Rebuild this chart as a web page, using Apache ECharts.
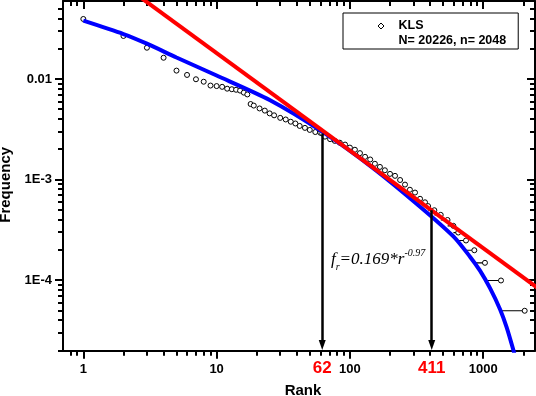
<!DOCTYPE html>
<html>
<head>
<meta charset="utf-8">
<script src="https://cdn.jsdelivr.net/npm/echarts@6/dist/echarts.min.js"></script>
<style>
  html, body { margin: 0; padding: 0; background: #fff; }
  #chart { width: 536px; height: 396px; }
</style>
</head>
<body>
<div id="chart"></div>
<script>
const N = 20226; // tokens

// word counts for ranks 1..17
const headCounts = [800, 542, 414, 329, 245, 222, 201, 190, 174, 172, 169, 162, 160, 158, 155, 148, 142];

// dense middle part, read along the band
const bandRanks = [18, 19, 21, 23, 25, 27, 30, 33, 36, 39, 42, 46, 50, 55, 60, 62, 65, 71, 77, 84, 92, 100,
  109, 119, 130, 142, 154, 168, 183, 200, 218, 238, 259, 282, 308, 336, 366, 386];
const bandCounts = [114, 110, 103, 98, 92, 88, 83, 80, 76, 73, 69, 66, 63, 60, 59, 58, 54, 51, 49, 47, 45, 42,
  40, 37, 34, 32, 29, 27, 25, 23, 22, 20, 18, 16, 15, 13, 12, 11];

// tied counts in the tail: count, last rank of the run
const tieCounts = [10, 9, 8, 7, 6, 5, 4, 3, 2, 1];
const tieLastRanks = [430, 480, 540, 597, 650, 743, 858, 1031, 1360, 2048];

// fitted curves
const blueRanks = [1, 2, 3, 5, 10, 25, 62, 150, 336, 600, 796, 946, 1125, 1337, 1500, 1682, 1760];
const blueFreq = [0.038, 0.028, 0.02245, 0.01637, 0.01083, 0.00618, 0.00299, 0.00129, 5.36e-4, 2.70e-4,
  1.706e-4, 1.238e-4, 8.29e-5, 5.12e-5, 3.38e-5, 2.02e-5, 1.6e-5];
const redRanks = [1, 3000];
const redFreq = [0.169, 7.16e-5];

const markedRanks = [62, 411];

const xTicks = [1, 10, 100, 1000];
const xTickLabels = ['1', '10', '100', '1000'];
const yTicks = [1e-4, 1e-3, 0.01];
const yTickLabels = ['1E-4', '1E-3', '0.01'];

const xMin = 0.704, xMax = 2447;
const yMin = 1.98e-5, yMax = 0.0597;

function minorOf(decades) {
  const out = [];
  decades.forEach(d => {
    for (let k = 2; k <= 9; k++) out.push(+(d * k).toPrecision(3));
  });
  return out;
}
const xMinor = minorOf([0.1, 1, 10, 100, 1000]);
const yMinor = minorOf([1e-5, 1e-4, 1e-3, 1e-2]);

function pick(ticks, labels) {
  return v => {
    for (let i = 0; i < ticks.length; i++) {
      if (Math.abs(Math.log10(v / ticks[i])) < 0.01) return labels[i];
    }
    return '';
  };
}

// points
const points = [];
headCounts.forEach((c, i) => points.push([i + 1, c / N]));
bandRanks.forEach((r, i) => points.push([r, bandCounts[i] / N]));
tieCounts.forEach((c, i) => points.push([tieLastRanks[i], c / N]));

// horizontal runs of equal count
const runs = [];
tieCounts.forEach((c, i) => {
  const start = i === 0 ? bandRanks[bandRanks.length - 1] + 1 : tieLastRanks[i - 1] + 1;
  runs.push([start, c / N], [tieLastRanks[i], c / N], [tieLastRanks[i], null]);
});

function countAt(r) {
  const b = bandRanks.indexOf(r);
  if (b >= 0) return bandCounts[b];
  for (let i = 0; i < tieCounts.length; i++) {
    if (r <= tieLastRanks[i]) return tieCounts[i];
  }
  return 1;
}

const black = '#000';
const font = 'Liberation Sans';

function axisBase(type, extra) {
  return Object.assign({
    type: 'log',
    logBase: 10,
    min: type === 'x' ? xMin : yMin,
    max: type === 'x' ? xMax : yMax,
    splitLine: { show: false },
    axisLine: { show: false, onZero: false, lineStyle: { color: black, width: 2 } },
    axisTick: { show: false },
    axisLabel: { show: false }
  }, extra);
}

const chart = echarts.init(document.getElementById('chart'), null, { renderer: 'canvas' });

chart.setOption({
  animation: false,
  backgroundColor: '#fff',
  grid: { left: 63, top: 1, width: 472, height: 349.7, containLabel: false, outerBoundsMode: 'none' },
  xAxis: [
    axisBase('x', {
      position: 'bottom',
      name: 'Rank', nameLocation: 'middle', nameGap: 33,
      nameTextStyle: { fontFamily: font, fontWeight: 'bold', fontSize: 15, color: black, padding: [0, 0, 0, 8] },
      axisLine: { show: true, onZero: false, lineStyle: { color: black, width: 2 } },
      axisTick: { show: true, customValues: xTicks, length: 8, lineStyle: { color: black, width: 2 } },
      axisLabel: { show: true, customValues: xTicks, formatter: pick(xTicks, xTickLabels), margin: 12,
        fontFamily: font, fontWeight: 'bold', fontSize: 13, color: black }
    }),
    axisBase('x', {
      position: 'bottom',
      axisTick: { show: true, customValues: xMinor, length: 5, lineStyle: { color: black, width: 2 } },
      axisLabel: { show: true, customValues: markedRanks, formatter: v => String(Math.round(v)), margin: 9,
        fontFamily: font, fontWeight: 'bold', fontSize: 17, color: '#ff0000' }
    }),
    axisBase('x', {
      position: 'top',
      axisLine: { show: true, onZero: false, lineStyle: { color: black, width: 2 } },
      axisTick: { show: true, inside: true, customValues: xTicks, length: 8, lineStyle: { color: black, width: 2 } }
    }),
    axisBase('x', {
      position: 'top',
      axisTick: { show: true, inside: true, customValues: xMinor, length: 5, lineStyle: { color: black, width: 2 } }
    })
  ],
  yAxis: [
    axisBase('y', {
      position: 'left',
      name: 'Frequency', nameLocation: 'middle', nameGap: 48,
      nameTextStyle: { fontFamily: font, fontWeight: 'bold', fontSize: 15, color: black, padding: [0, 18, 0, 0] },
      axisLine: { show: true, onZero: false, lineStyle: { color: black, width: 2 } },
      axisTick: { show: true, customValues: yTicks, length: 8, lineStyle: { color: black, width: 2 } },
      axisLabel: { show: true, customValues: yTicks, formatter: pick(yTicks, yTickLabels), margin: 11,
        fontFamily: font, fontWeight: 'bold', fontSize: 13, color: black }
    }),
    axisBase('y', {
      position: 'left',
      axisTick: { show: true, customValues: yMinor, length: 5, lineStyle: { color: black, width: 2 } }
    }),
    axisBase('y', {
      position: 'right',
      axisLine: { show: true, onZero: false, lineStyle: { color: black, width: 2 } },
      axisTick: { show: true, inside: true, customValues: yTicks, length: 8, lineStyle: { color: black, width: 2 } }
    }),
    axisBase('y', {
      position: 'right',
      axisTick: { show: true, inside: true, customValues: yMinor, length: 5, lineStyle: { color: black, width: 2 } }
    })
  ],
  legend: {
    left: 343, top: 13,
    orient: 'vertical',
    selectedMode: false,
    data: [{ name: 'KLS', icon: 'diamond' }, { name: 'N= 20226, n= 2048', icon: 'none' }],
    itemWidth: 6, itemHeight: 6, itemGap: 1,
    padding: [6, 12, 1, 34.5],
    borderColor: black, borderWidth: 1, borderRadius: 0,
    itemStyle: { color: '#fff', borderColor: black, borderWidth: 1 },
    textStyle: { fontFamily: font, fontWeight: 'bold', fontSize: 12.5, color: black, lineHeight: 14, padding: [0, 0, 0, 9.5] }
  },
  series: [
    {
      name: 'KLS',
      type: 'scatter',
      data: points,
      symbol: 'circle',
      symbolSize: 5,
      itemStyle: { color: '#fff', borderColor: black, borderWidth: 1, opacity: 1 },
      z: 1,
      markLine: {
        silent: true,
        symbol: ['none', 'triangle'],
        symbolSize: [7, 10],
        label: { show: false },
        lineStyle: { color: black, width: 2.5, type: 'solid' },
        data: markedRanks.map(r => [{ coord: [r, countAt(r) / N] }, { coord: [r, 2.25e-5] }])
      }
    },
    {
      name: 'runs',
      type: 'line',
      data: runs,
      showSymbol: false,
      connectNulls: false,
      lineStyle: { color: black, width: 1.2 },
      z: 1
    },
    {
      name: 'fit',
      type: 'line',
      data: blueRanks.map((r, i) => [r, blueFreq[i]]),
      smooth: 0.25,
      showSymbol: false,
      lineStyle: { color: '#0000ff', width: 4 },
      z: 2
    },
    {
      name: 'power',
      type: 'line',
      data: redRanks.map((r, i) => [r, redFreq[i]]),
      showSymbol: false,
      lineStyle: { color: '#ff0000', width: 4 },
      z: 3
    },
    { name: 'N= 20226, n= 2048', type: 'line', data: [] }
  ],
  graphic: [
    {
      type: 'text',
      left: 331, top: 248,
      z: 10,
      style: {
        text: '{m|f}{s|r}{m|=0.169*r}{p|-0.97}',
        rich: {
          m: { fontFamily: 'Liberation Serif', fontStyle: 'italic', fontSize: 17, color: black, verticalAlign: 'bottom', padding: [0, 0, 4, 0] },
          s: { fontFamily: 'Liberation Serif', fontStyle: 'italic', fontSize: 10, color: black, verticalAlign: 'bottom' },
          p: { fontFamily: 'Liberation Serif', fontStyle: 'italic', fontSize: 10, color: black, verticalAlign: 'bottom', padding: [0, 0, 14, 0] }
        }
      }
    }
  ]
});
</script>
</body>
</html>
